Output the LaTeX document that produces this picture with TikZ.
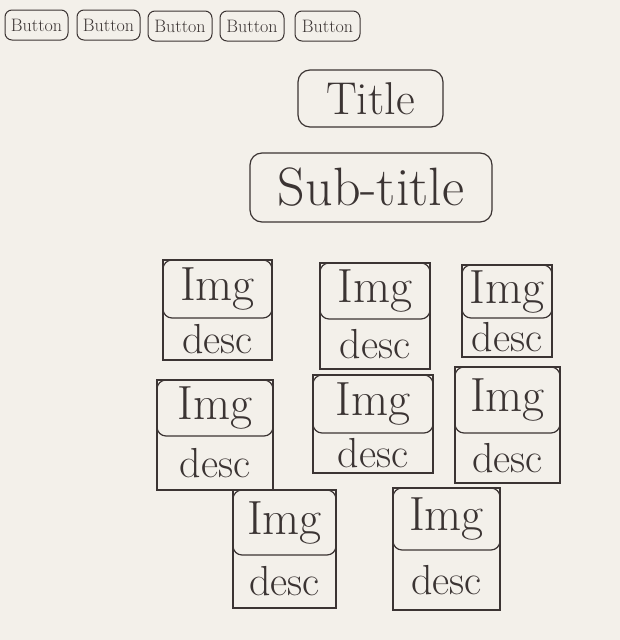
\documentclass[tikz,border=0pt]{standalone}
\usetikzlibrary{positioning,calc}
\definecolor{ink}{HTML}{3B3433}
\definecolor{paper}{HTML}{F3F0EA}
\begin{document}
\begin{tikzpicture}[x=1pt,y=-1pt,
  every node/.style={inner sep=0pt, outer sep=0pt, text=ink},
  btn/.style={draw=ink, line width=1pt, rounded corners=7pt, anchor=north west, font=\fontsize{18}{20}\selectfont},
  hdr/.style={draw=ink, line width=1.2pt, rounded corners=12pt, anchor=north west},
  card/.style={draw=ink, line width=1.3pt, anchor=north west},
  imgbox/.style={draw=ink, line width=1.2pt, rounded corners=9pt, anchor=north west, font=\fontsize{48}{52}\selectfont},
  desctext/.style={font=\fontsize{42}{46}\selectfont}
]
\useasboundingbox[fill=paper] (0,0) rectangle (620,640);

% buttons
\node[btn, minimum width=63pt, minimum height=30pt] (b1) at (5,10) {Button};
\node[btn, minimum width=63pt, minimum height=30pt] (b2) at (77,10) {Button};
\node[btn, minimum width=64pt, minimum height=30pt] (b3) at (148,11) {Button};
\node[btn, minimum width=64pt, minimum height=30pt] (b4) at (220,11) {Button};
\node[btn, minimum width=65pt, minimum height=30pt] (b5) at (295,11) {Button};

% title and subtitle
\node[hdr, minimum width=145pt, minimum height=57pt, font=\fontsize{46}{50}\selectfont] (title) at (298,70) {Title};
\node[hdr, minimum width=242pt, minimum height=69pt, font=\fontsize{54}{58}\selectfont] (sub) at (250,153) {Sub-title};

% cards: outer box, image box, description
% row 1
\node[card, minimum width=109pt, minimum height=100pt] (cA) at (163,260) {};
\node[imgbox, minimum width=109pt, minimum height=58pt] (iA) at (163,260) {Img};
\node[desctext] (dA) at ($(iA.south)!0.5!(cA.south)$) {desc};

\node[card, minimum width=110pt, minimum height=106pt] (cB) at (320,263) {};
\node[imgbox, minimum width=110pt, minimum height=56pt] (iB) at (320,263) {Img};
\node[desctext] (dB) at ($(iB.south)!0.5!(cB.south)$) {desc};

\node[card, minimum width=90pt, minimum height=92pt] (cC) at (462,265) {};
\node[imgbox, minimum width=90pt, minimum height=53pt] (iC) at (462,265) {Img};
\node[desctext] (dC) at ($(iC.south)!0.5!(cC.south)$) {desc};

% row 2
\node[card, minimum width=116pt, minimum height=110pt] (cD) at (157,380) {};
\node[imgbox, minimum width=116pt, minimum height=56pt] (iD) at (157,380) {Img};
\node[desctext] (dD) at ($(iD.south)!0.5!(cD.south)$) {desc};

\node[card, minimum width=120pt, minimum height=98pt] (cE) at (313,375) {};
\node[imgbox, minimum width=120pt, minimum height=58pt] (iE) at (313,375) {Img};
\node[desctext] (dE) at ($(iE.south)!0.5!(cE.south)$) {desc};

\node[card, minimum width=105pt, minimum height=116pt] (cF) at (455,367) {};
\node[imgbox, minimum width=105pt, minimum height=66pt] (iF) at (455,367) {Img};
\node[desctext] (dF) at ($(iF.south)!0.5!(cF.south)$) {desc};

% row 3
\node[card, minimum width=103pt, minimum height=118pt] (cG) at (233,490) {};
\node[imgbox, minimum width=103pt, minimum height=65pt] (iG) at (233,490) {Img};
\node[desctext] (dG) at ($(iG.south)!0.5!(cG.south)$) {desc};

\node[card, minimum width=107pt, minimum height=122pt] (cH) at (393,488) {};
\node[imgbox, minimum width=107pt, minimum height=62pt] (iH) at (393,488) {Img};
\node[desctext] (dH) at ($(iH.south)!0.5!(cH.south)$) {desc};
\end{tikzpicture}
\end{document}
